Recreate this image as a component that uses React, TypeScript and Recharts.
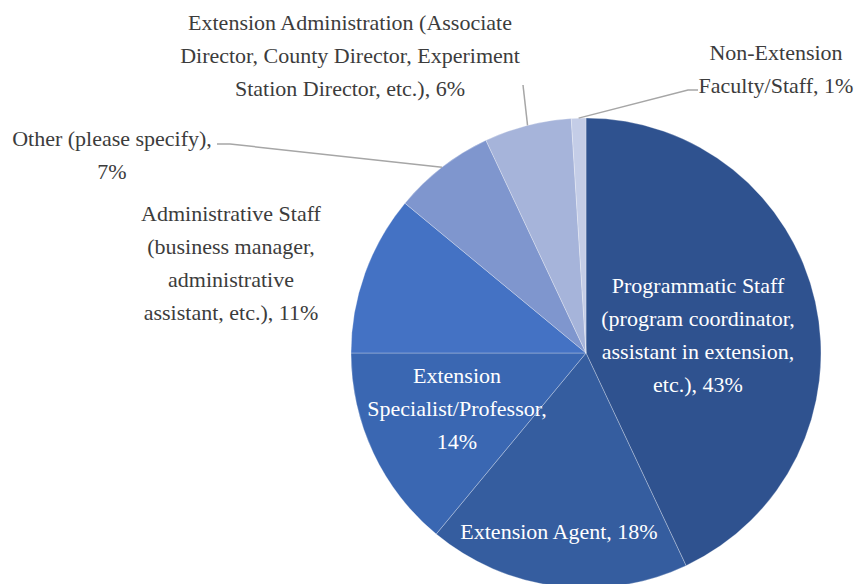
import React from 'react';
import { PieChart, Pie, Cell } from 'recharts';

// Respondent roles and their share of responses (percent)
const roles = [
  'Programmatic Staff (program coordinator, assistant in extension, etc.)',
  'Extension Agent',
  'Extension Specialist/Professor',
  'Administrative Staff (business manager, administrative assistant, etc.)',
  'Other (please specify)',
  'Extension Administration (Associate Director, County Director, Experiment Station Director, etc.)',
  'Non-Extension Faculty/Staff',
];
const shares = [43, 18, 14, 11, 7, 6, 1];
const colors = ['#2F528F', '#355D9F', '#3A67B2', '#4472C4', '#7F96CE', '#A6B4DA', '#C4CDE7'];

// Words per wrapped label line
const lineWords = [
  [2, 2, 3, 2],
  [3],
  [1, 1, 1],
  [2, 2, 1, 3],
  [3, 1],
  [3, 4, 4],
  [1, 2],
];

// Label placement relative to the pie centre: [dx, dy of first line]
const labelOffsets: [number, number][] = [
  [112, -68],
  [-27, 178],
  [-129, 22],
  [-355, -140],
  [-474, -215],
  [-236, -331],
  [190, -301],
];
const insideLabel = [true, true, true, false, false, false, false];

// Leader line bends/ends relative to the pie centre (from slice edge outward)
const leaderPoints: ([number, number][] | null)[] = [
  null,
  null,
  null,
  null,
  [[-356, -209], [-369, -209]],
  [[-63, -268]],
  [[102, -263], [112, -263]],
];

const data = roles.map((name, i) => ({ name, value: shares[i] }));

const LINE_H = 33;
const FONT = 'Liberation Serif';

function wrapLabel(name: string, value: number, counts: number[]): string[] {
  const words = `${name}, ${value}%`.split(' ');
  const lines: string[] = [];
  let k = 0;
  for (const c of counts) {
    lines.push(words.slice(k, k + c).join(' '));
    k += c;
  }
  return lines;
}

const renderLabel = (props: any) => {
  const { cx, cy, midAngle, outerRadius, index, name, value } = props;
  const RAD = Math.PI / 180;
  const lines = wrapLabel(name, value, lineWords[index]);
  const [dx, dy] = labelOffsets[index];
  const tx = cx + dx;
  const ty = cy + dy;
  const inside = insideLabel[index];
  const pts = leaderPoints[index];
  let leader = null;
  if (pts) {
    const sx = cx + outerRadius * Math.cos(-midAngle * RAD);
    const sy = cy + outerRadius * Math.sin(-midAngle * RAD);
    const path = [[sx, sy], ...pts.map(([px, py]) => [cx + px, cy + py])]
      .map((p, j) => `${j === 0 ? 'M' : 'L'}${p[0]},${p[1]}`)
      .join(' ');
    leader = <path d={path} stroke="#A6A6A6" strokeWidth={1.5} fill="none" />;
  }
  return (
    <g key={`lbl-${index}`} fontFamily={FONT}>
      {leader}
      {lines.map((ln, j) => (
        <text
          key={j}
          x={tx}
          y={ty + j * LINE_H}
          textAnchor="middle"
          dominantBaseline="central"
          fill={inside ? '#FFFFFF' : '#3C3C3C'}
          fontFamily={FONT}
          fontSize={22}
        >
          {ln}
        </text>
      ))}
    </g>
  );
};

export default function App() {
  return (
    <div style={{ position: 'absolute', left: 0, top: 0, width: 855, height: 584, background: '#fff', fontFamily: FONT }}>
      <PieChart width={855} height={584} margin={{ top: 0, right: 0, bottom: 0, left: 0 }}>
        <Pie
          data={data}
          dataKey="value"
          nameKey="name"
          cx={586}
          cy={353}
          outerRadius={235}
          startAngle={90}
          endAngle={-270}
          stroke="#FFFFFF"
          strokeWidth={0.8}
          strokeOpacity={0.35}
          label={renderLabel}
          labelLine={false}
          isAnimationActive={false}
        >
          {data.map((d, i) => (
            <Cell key={d.name} fill={colors[i]} />
          ))}
        </Pie>
      </PieChart>
    </div>
  );
}
